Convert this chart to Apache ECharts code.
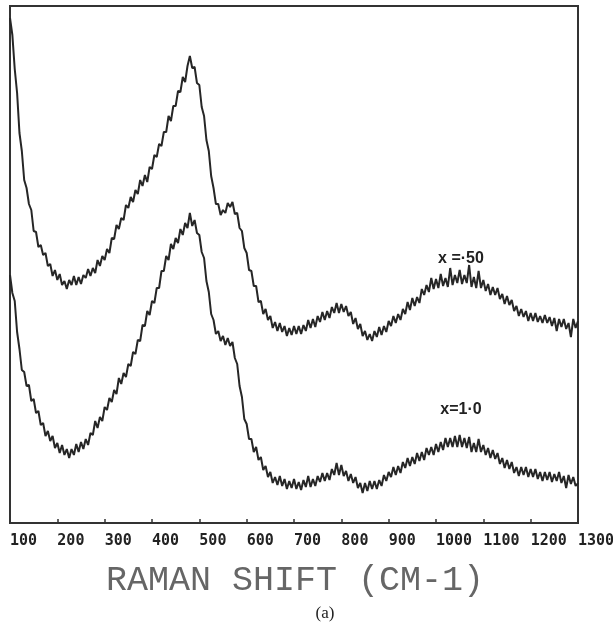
<!DOCTYPE html>
<html><head><meta charset="utf-8">
<script src="https://cdn.jsdelivr.net/npm/echarts@6/dist/echarts.min.js"></script>
<style>html,body{margin:0;padding:0;background:#fff}#c{width:613px;height:626px}</style>
</head><body><div id="c"></div>
<script>
// Raman shift grid (cm-1), 5 cm-1 steps from 100 to 1300
var shiftStart = 100, shiftStep = 5;
var xTicks = [100,200,300,400,500,600,700,800,900,1000,1100,1200,1300];
// Intensity (arbitrary units), x = .50 (upper trace)
var upperX50 = [
505,488,454,430,390,372,343,335,319,313,
292,291,276,278,268,270,257,259,247,253,
243,249,238,242,234,243,238,247,238,246,
239,248,245,254,247,255,250,263,257,267,
263,274,270,285,284,298,294,305,303,318,
315,326,321,333,329,343,337,348,341,356,
354,368,366,379,377,391,391,407,402,417,
417,432,431,446,441,457,467,455,456,440,
438,416,407,383,372,347,335,319,319,308,
313,310,320,316,321,309,310,295,292,275,
270,253,252,237,237,221,222,209,214,203,
207,195,201,192,200,191,197,187,195,188,
197,189,197,189,198,192,203,195,204,196,
207,201,211,203,212,205,216,210,220,210,
219,211,217,207,211,199,205,194,199,187,
192,183,189,182,192,186,196,188,197,191,
202,197,207,200,209,203,214,209,221,213,
225,217,226,220,234,228,238,231,245,234,
244,235,249,237,245,236,255,238,248,240,
253,239,248,240,258,236,246,235,252,235,
243,232,239,228,236,228,235,224,229,219,
227,218,223,212,217,207,214,206,212,202,
210,202,210,201,207,200,208,200,206,197,
205,192,204,196,204,194,200,186,204,195,
202];
// x = 1.0 (lower trace)
var lowerX10 = [
248,230,222,191,174,153,151,137,138,122,
124,110,112,98,100,87,92,82,87,75,
80,70,78,68,74,65,74,68,79,71,
81,74,84,78,90,88,102,95,106,102,
116,113,125,121,133,129,145,139,150,146,
159,157,171,169,183,182,198,197,212,208,
222,220,235,235,252,252,267,263,279,274,
285,280,294,288,300,295,310,297,303,290,
288,271,265,242,231,209,203,189,192,182,
187,178,185,177,181,165,159,137,126,104,
99,84,84,71,76,63,66,53,57,46,
51,40,46,38,47,37,44,34,42,35,
44,34,41,33,43,36,47,36,44,37,
47,41,50,42,50,43,54,48,60,48,
58,47,52,42,49,40,46,35,40,30,
40,32,42,34,42,34,43,37,48,42,
51,46,56,48,57,50,61,55,65,57,
66,59,70,62,71,63,75,68,76,68,
79,71,81,73,85,76,85,76,87,76,
88,76,85,75,86,71,80,71,84,71,
78,68,75,65,73,64,70,59,65,55,
63,54,61,50,56,47,56,48,56,46,
54,46,54,44,51,42,51,43,51,41,
49,42,51,40,47,35,48,39,46,37,
40];
var seriesNames = ['x =·50', 'x=1·0'];
var axisTitle = 'RAMAN SHIFT (CM-1)';
var panelTag = '(a)';

function pairs(vals){
  var out = [];
  for (var i = 0; i < vals.length; i++) out.push([shiftStart + i*shiftStep, vals[i]]);
  return out;
}
var chart = echarts.init(document.getElementById('c'), null, {renderer:'canvas'});
var ink = '#262626';
chart.setOption({
  animation: false,
  backgroundColor: '#ffffff',
  grid: {left: 10, right: 35, top: 6, bottom: 103, containLabel: false, outerBoundsMode: 'none',
    show: true, borderColor: '#333', borderWidth: 2, backgroundColor: 'transparent'},
  xAxis: {
    type: 'value', min: xTicks[0], max: xTicks[xTicks.length-1], interval: 100,
    axisLine: {show: true, lineStyle: {color: '#333', width: 2}},
    axisTick: {show: true, inside: true, length: 4, lineStyle: {color: '#333', width: 1.5}},
    splitLine: {show: false},
    axisLabel: {show: true, showMinLabel: true, showMaxLabel: true, hideOverlap: false, align: 'left', margin: 11,
      formatter: function(v){ return String(v); },
      fontFamily: 'DejaVu Sans Mono', fontWeight: 'bold', fontSize: 15, color: '#222'}
  },
  yAxis: {type: 'value', min: 0, max: 517, show: false, splitLine: {show: false}},
  title: [
    {text: axisTitle, left: 290, top: 558, textAlign: 'center',
      textStyle: {fontFamily: 'Liberation Mono', fontSize: 35, fontWeight: 'normal', color: '#666'}},
    {text: panelTag, left: 320, top: 600, textAlign: 'center',
      textStyle: {fontFamily: 'Liberation Serif', fontSize: 17, fontWeight: 'normal', color: '#222'}},
    {text: seriesNames[0], left: 456, top: 246, textAlign: 'center',
      textStyle: {fontFamily: 'Liberation Sans', fontSize: 16, fontWeight: 'bold', color: '#222'}},
    {text: seriesNames[1], left: 456, top: 397, textAlign: 'center',
      textStyle: {fontFamily: 'Liberation Sans', fontSize: 16, fontWeight: 'bold', color: '#222'}}
  ],
  series: [
    {name: seriesNames[0], type: 'line', data: pairs(upperX50), showSymbol: false, symbol: 'none',
      lineStyle: {color: ink, width: 2}, clip: true},
    {name: seriesNames[1], type: 'line', data: pairs(lowerX10), showSymbol: false, symbol: 'none',
      lineStyle: {color: ink, width: 2}, clip: true}
  ]
});
</script>
</body></html>
